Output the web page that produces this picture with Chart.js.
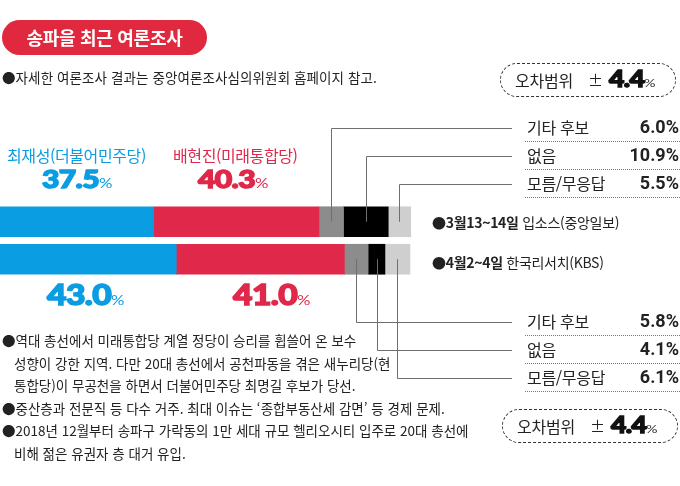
<!DOCTYPE html>
<html lang="ko">
<head>
<meta charset="utf-8">
<script src="https://cdn.jsdelivr.net/npm/chart.js@4.4.1/dist/chart.umd.min.js"></script>
<style>
  html, body { margin: 0; padding: 0; background: #fff; }
  #wrap { position: relative; width: 680px; height: 486px; overflow: hidden;
          font-family: "Noto Sans CJK KR", "Noto Sans", sans-serif; color: #222; }
  #chart { position: absolute; left: 0; top: 0; }
  .t { position: absolute; white-space: nowrap; }
  .pill { position: absolute; left: 2px; top: 20px; width: 205px; height: 35px; border-radius: 18px;
          background: #e0283f; color: #fff; font-weight: 700; font-size: 18px; line-height: 35px;
          text-align: center; letter-spacing: -0.3px; }
  .big { font-family: Lato, "Noto Sans", sans-serif; font-weight: 900; letter-spacing: -0.5px;
         -webkit-text-stroke: 1.4px currentColor; transform: scaleX(1.2); transform-origin: left center; }
  .pct { font-family: Lato, sans-serif; font-weight: 400; font-size: 14px; letter-spacing: 0;
         -webkit-text-stroke: 0; }
  .blue { color: #0a9de2; }
  .red { color: #e0284a; }
  .row { position: absolute; left: 525px; width: 155px; height: 26px; border-bottom: 1px dotted #777; }
  .row .k { position: absolute; left: 2px; top: 2px; font-size: 16px; line-height: 20px; letter-spacing: -0.3px; }
  .row .v { position: absolute; right: 1px; top: 2px; font-family: Roboto, sans-serif; font-weight: 700;
            font-size: 18px; line-height: 20px; }
  .err { position: absolute; width: 174px; height: 32px; border: 1.5px dashed #333; border-radius: 17px; }
  .err .k { position: absolute; left: 14px; top: 6px; font-size: 16px; line-height: 20px; letter-spacing: -0.2px; }
  .err .pm { position: absolute; left: 87px; top: 6px; font-size: 15px; line-height: 20px; }
  .err .v { position: absolute; left: 108px; top: 3px; font-size: 22px; line-height: 24px; color: #111; }
  .err .v .pct { font-size: 12px; color: #333; }
  .note { position: absolute; left: 2px; font-size: 13.5px; line-height: 22.5px; letter-spacing: 0; }
  .note .ind { padding-left: 12px; }
  .sv { position: absolute; left: 432px; font-size: 14px; line-height: 20px; letter-spacing: -0.3px; }
  .sv b { font-weight: 700; }
</style>
</head>
<body>
<div id="wrap">
  <canvas id="chart" width="680" height="486"></canvas>

  <div class="pill">송파을 최근 여론조사</div>
  <div class="t" style="left:2px; top:67px; font-size:13.5px; line-height:20px; letter-spacing:0.1px;">●자세한 여론조사 결과는 중앙여론조사심의위원회 홈페이지 참고.</div>

  <div class="t blue" style="left:7px; top:144px; font-size:16px; line-height:22px; letter-spacing:-0.4px;" id="nameA"></div>
  <div class="t red" style="left:173px; top:144px; font-size:16px; line-height:22px; letter-spacing:-0.4px;" id="nameB"></div>
  <div class="t big blue" style="left:42px; top:163px; font-size:25px; line-height:30px;" id="numA0"></div>
  <div class="t big red" style="left:198px; top:163px; font-size:25px; line-height:30px;" id="numB0"></div>
  <div class="t big blue" style="left:47px; top:279px; font-size:28px; line-height:30px;" id="numA1"></div>
  <div class="t big red" style="left:233px; top:279px; font-size:28px; line-height:30px;" id="numB1"></div>

  <div class="sv" style="top:212px;" id="sv0"></div>
  <div class="sv" style="top:252px;" id="sv1"></div>

  <div id="rows"></div>

  <div class="err" style="left:500px; top:63px;" id="err0"></div>
  <div class="err" style="left:502px; top:409px;" id="err1"></div>

  <div class="note" style="top:329px;">
    <div>●역대 총선에서 미래통합당 계열 정당이 승리를 휩쓸어 온 보수</div>
    <div class="ind">성향이 강한 지역. 다만 20대 총선에서 공천파동을 겪은 새누리당(현</div>
    <div class="ind">통합당)이 무공천을 하면서 더불어민주당 최명길 후보가 당선.</div>
    <div>●중산층과 전문직 등 다수 거주. 최대 이슈는 ‘종합부동산세 감면’ 등 경제 문제.</div>
    <div>●2018년 12월부터 송파구 가락동의 1만 세대 규모 헬리오시티 입주로 20대 총선에</div>
    <div class="ind">비해 젊은 유권자 층 대거 유입.</div>
  </div>
</div>

<script>
// 여론조사 데이터
const surveyDates = ['3월13~14일', '4월2~4일'];
const surveyFirms = ['입소스(중앙일보)', '한국리서치(KBS)'];
const candidates = ['최재성(더불어민주당)', '배현진(미래통합당)'];
const choiValues = [37.5, 43.0];
const baeValues = [40.3, 41.0];
const otherValues = [6.0, 5.8];
const noneValues = [10.9, 4.1];
const unknownValues = [5.5, 6.1];
const otherLabels = ['기타 후보', '없음', '모름/무응답'];
const errorMargins = [4.4, 4.4];

const colors = ['#0a9de2', '#e0284a', '#8c8c8c', '#000000', '#cfcfcf'];

// 오른쪽 항목 줄 위치 (조사별)
const rowTops = [[115, 143, 171], [309, 337, 365]];

// text
const fmt = v => v.toFixed(1);
document.getElementById('nameA').textContent = candidates[0];
document.getElementById('nameB').textContent = candidates[1];
[0, 1].forEach(i => {
    document.getElementById('numA' + i).innerHTML = fmt(choiValues[i]) + '<span class="pct">%</span>';
    document.getElementById('numB' + i).innerHTML = fmt(baeValues[i]) + '<span class="pct">%</span>';
    document.getElementById('sv' + i).innerHTML = '●<b>' + surveyDates[i] + '</b> ' + surveyFirms[i];
    document.getElementById('err' + i).innerHTML =
        '<span class="k">오차범위</span><span class="pm">±</span>' +
        '<span class="v big">' + fmt(errorMargins[i]) + '<span class="pct">%</span></span>';
});

const rowsEl = document.getElementById('rows');
const otherSeries = [otherValues, noneValues, unknownValues];
[0, 1].forEach(i => {
    otherLabels.forEach((lab, j) => {
        const r = document.createElement('div');
        r.className = 'row';
        r.style.top = rowTops[i][j] + 'px';
        r.innerHTML = '<span class="k">' + lab + '</span><span class="v">' + fmt(otherSeries[j][i]) + '%</span>';
        rowsEl.appendChild(r);
    });
});

// leader lines from the small segments to the label rows
const leaderLines = {
    id: 'leaderLines',
    afterDatasetsDraw(chart) {
        const ctx = chart.ctx;
        const endX = 512;
        ctx.save();
        ctx.strokeStyle = '#6f6f6f';
        ctx.lineWidth = 1;
        [2, 3, 4].forEach((ds, j) => {
            const meta = chart.getDatasetMeta(ds);
            meta.data.forEach((el, i) => {
                const cx = Math.round((el.x + el.base) / 2) + 0.5;
                const ty = rowTops[i][j] + 13.5;
                ctx.beginPath();
                ctx.moveTo(cx, el.y);
                ctx.lineTo(cx, ty);
                ctx.lineTo(endX, ty);
                ctx.stroke();
            });
        });
        ctx.restore();
    }
};

new Chart(document.getElementById('chart'), {
    type: 'bar',
    data: {
        labels: surveyDates,
        datasets: [
            { label: candidates[0], data: choiValues, backgroundColor: colors[0] },
            { label: candidates[1], data: baeValues, backgroundColor: colors[1] },
            { label: otherLabels[0], data: otherValues, backgroundColor: colors[2] },
            { label: otherLabels[1], data: noneValues, backgroundColor: colors[3] },
            { label: otherLabels[2], data: unknownValues, backgroundColor: colors[4] }
        ]
    },
    options: {
        indexAxis: 'y',
        responsive: false,
        animation: false,
        layout: { padding: { left: 0, right: 268, top: 203, bottom: 208 } },
        datasets: { bar: { barThickness: 30, borderWidth: 0 } },
        plugins: { legend: { display: false }, tooltip: { enabled: false } },
        scales: {
            x: { stacked: true, display: false, min: 0, max: 100.5, grid: { display: false } },
            y: { stacked: true, display: false, grid: { display: false } }
        }
    },
    plugins: [leaderLines]
});
</script>
</body>
</html>
